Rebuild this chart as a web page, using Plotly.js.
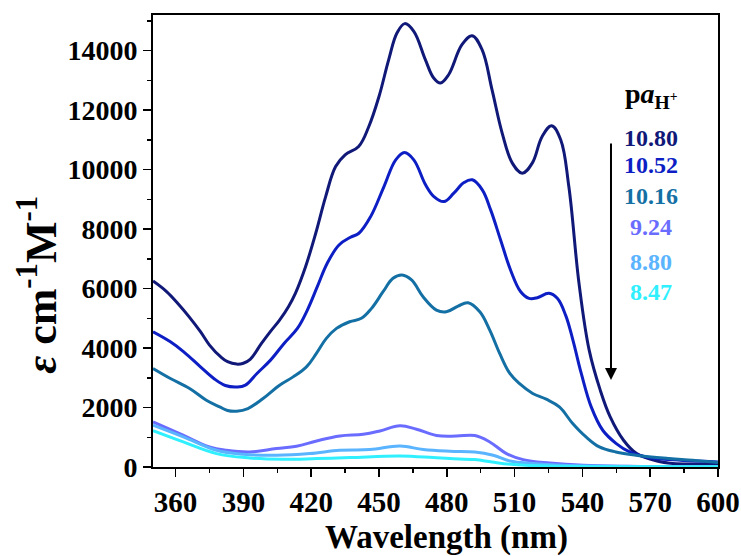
<!DOCTYPE html>
<html>
<head>
<meta charset="utf-8">
<script src="https://cdn.plot.ly/plotly-3.0.1.min.js"></script>
<style>html,body{margin:0;padding:0;background:#fff;}#chart{width:741px;height:556px;}</style>
</head>
<body>
<div id="chart"></div>
<script>
// pH labels (pa_H+)
const seriesLabels = ["10.80", "10.52", "10.16", "9.24", "8.80", "8.47"];
const seriesColors = ["#101878", "#0c1ec4", "#1470a4", "#6a6cff", "#5ab4ff", "#30f0ff"];

// Wavelengths (nm) and molar absorptivity values
const wl_1080 = [350, 356, 361, 366, 371, 375, 380, 383, 387, 390, 393, 398, 402, 406, 410, 413, 417.5, 422, 426.4, 430.8, 435, 441, 445.5, 450, 454.3, 458, 461.4, 465.4, 470.5, 474.2, 477.2, 480.8, 486.7, 491.2, 495.6, 500, 504.5, 509, 513.4, 517.8, 522.2, 526.4, 530.4, 534, 538.5, 543, 547.9, 552.3, 558.2, 564, 573, 580, 590, 600];
const eps_1080 = [6255, 5900, 5500, 5050, 4550, 4100, 3700, 3540, 3460, 3490, 3620, 4155, 4560, 4940, 5400, 5840, 6735, 7860, 9094, 10104, 10500, 10780, 11450, 12460, 13700, 14600, 14910, 14650, 13700, 13080, 12910, 13190, 14200, 14505, 14034, 12690, 11230, 10220, 9880, 10220, 11115, 11475, 11004, 9430, 6177, 3930, 2585, 1684, 900, 451, 202, 120, 100, 90];

const wl_1052 = [350, 357.7, 363.6, 371, 376.9, 382, 387.2, 390.9, 396, 402, 408, 413.9, 418.3, 422.7, 427.1, 432.3, 437.4, 441.1, 446.3, 452.2, 457.4, 461.3, 465.4, 470.6, 474.3, 478.7, 483.1, 487.6, 491.3, 495.7, 499.4, 503.8, 508.2, 512.7, 516.4, 520, 525.2, 528.9, 532.6, 535.8, 539.5, 543.9, 549, 555, 560.9, 568.2, 578.6, 600];
const eps_1052 = [4547, 4210, 3873, 3368, 2977, 2740, 2690, 2752, 3146, 3594, 4156, 4661, 5278, 6063, 6850, 7467, 7726, 7860, 8420, 9430, 10330, 10575, 10330, 9490, 9094, 8926, 9208, 9566, 9657, 9320, 8646, 7635, 6625, 5894, 5672, 5692, 5840, 5672, 5100, 4267, 3146, 2021, 1236, 788, 505, 337, 249, 168];

const wl_1016 = [350, 357.7, 366.2, 373.6, 379.5, 383, 387, 392, 398.7, 406, 412, 417.9, 422.3, 426.7, 431.2, 437, 442.2, 446.7, 451.8, 456.2, 460.2, 464.4, 469.5, 475.4, 479.8, 485, 489.4, 494.6, 499, 503.4, 507.9, 512.2, 518, 524, 529.8, 535.7, 541.6, 547.5, 554.8, 563.7, 578.4, 588.8, 600];
const eps_1016 = [3314, 2977, 2640, 2246, 2020, 1900, 1876, 1966, 2304, 2752, 3031, 3368, 3820, 4325, 4661, 4884, 5000, 5335, 5894, 6345, 6457, 6290, 5725, 5278, 5220, 5413, 5524, 5220, 4604, 3820, 3146, 2800, 2472, 2280, 2020, 1462, 1010, 674, 505, 394, 283, 226, 148];

const wl_924 = [350, 363.3, 375, 382.5, 392.8, 404.6, 413.5, 422.4, 432.7, 443, 450.4, 459.3, 466.6, 475.4, 484.3, 492.4, 499, 506.4, 513.8, 525.6, 540.4, 560, 600];
const eps_924 = [1516, 1068, 674, 562, 505, 620, 697, 876, 1044, 1101, 1213, 1390, 1270, 1062, 1040, 1057, 842, 451, 249, 135, 57, 25, 15];

const wl_880 = [350, 363.4, 378.1, 389.9, 404.6, 419.4, 432.7, 446, 459.3, 469.6, 481.4, 492.4, 500.5, 507.9, 518, 540, 600];
const eps_880 = [1404, 1011, 562, 428, 394, 450, 562, 585, 707, 585, 528, 505, 394, 202, 120, 40, 15];

const wl_847 = [350, 363.4, 378.1, 392.8, 407.5, 422.4, 437.2, 459.3, 474, 481.4, 492.4, 500, 509.8, 525, 600];
const eps_847 = [1220, 842, 450, 303, 259, 283, 316, 371, 316, 283, 249, 168, 81, 30, 10];

const xTickVals = [360, 390, 420, 450, 480, 510, 540, 570, 600];
const yTickVals = [0, 2000, 4000, 6000, 8000, 10000, 12000, 14000];
const yTickText = ["0", "2000", "4000", "6000", "8000", "10000", "12000", "14000"];
const xTitle = "Wavelength (nm)";
const yTitle = "<i>ε</i> cm<sup>-1</sup>M<sup>-1</sup>";
const legendTitle = "p<i>a</i><sub>H<sup>+</sup></sub>";

const allX = [wl_1080, wl_1052, wl_1016, wl_924, wl_880, wl_847];
const allY = [eps_1080, eps_1052, eps_1016, eps_924, eps_880, eps_847];

const FONT = "Times New Roman, Liberation Serif, DejaVu Serif, serif";

const traces = allX.map((xs, i) => ({
  x: xs, y: allY[i], type: "scatter", mode: "lines", name: seriesLabels[i],
  line: {color: seriesColors[i], width: 3, shape: "spline", smoothing: 1.1},
  hoverinfo: "skip"
}));

const labelY = [0.728, 0.668, 0.600, 0.531, 0.454, 0.387];
const annotations = seriesLabels.map((t, i) => ({
  xref: "paper", yref: "paper", x: 0.881, y: labelY[i], xanchor: "center", yanchor: "middle",
  text: "<b>" + t + "</b>", showarrow: false, font: {family: FONT, size: 24, color: seriesColors[i]}
}));
annotations.push({
  xref: "paper", yref: "paper", x: 0.832, y: 0.823, xanchor: "left", yanchor: "middle",
  text: "<b>" + legendTitle + "</b>", showarrow: false,
  font: {family: FONT, size: 28, color: "#000"}
});
annotations.push({
  xref: "paper", yref: "paper", x: 0.8106, y: 0.1925, text: "", showarrow: true,
  ax: 0, ay: -238, arrowhead: 2, arrowsize: 1.2, arrowwidth: 2, arrowcolor: "#000"
});
// axis titles
annotations.push({
  xref: "paper", yref: "paper", x: 0.52, y: -0.155, xanchor: "center", yanchor: "middle",
  text: "<b>" + xTitle + "</b>", showarrow: false, font: {family: FONT, size: 33, color: "#000"}
});
annotations.push({
  xref: "paper", yref: "paper", x: -0.2035, y: 0.403, xanchor: "center", yanchor: "middle",
  textangle: -90, text: "<b>" + yTitle + "</b>", showarrow: false,
  font: {family: FONT, size: 44, color: "#000"}
});

const layout = {
  width: 741, height: 556,
  margin: {l: 153, r: 23, t: 15, b: 89},
  paper_bgcolor: "#fff", plot_bgcolor: "#fff",
  showlegend: false,
  font: {family: FONT},
  xaxis: {
    range: [350, 600], tickvals: xTickVals, ticks: "outside", ticklen: 8, tickwidth: 1.5,
    tickcolor: "#000", showline: true, linecolor: "#000", linewidth: 2, mirror: true,
    showgrid: false, zeroline: false,
    minor: {dtick: 15, tick0: 345, ticks: "outside", ticklen: 4, tickwidth: 1.5, tickcolor: "#000", showgrid: false},
    tickfont: {family: FONT, size: 29, color: "#000", weight: "bold"}
  },
  yaxis: {
    range: [0, 15200], tickvals: yTickVals, ticktext: yTickText, ticks: "outside", ticklen: 8, tickwidth: 1.5,
    tickcolor: "#000", showline: true, linecolor: "#000", linewidth: 2, mirror: true,
    showgrid: false, zeroline: false,
    minor: {dtick: 1000, tick0: 0, ticks: "outside", ticklen: 4, tickwidth: 1.5, tickcolor: "#000", showgrid: false},
    tickfont: {family: FONT, size: 28, color: "#000", weight: "bold"}
  },
  annotations: annotations
};

Plotly.newPlot("chart", traces, layout, {displayModeBar: false, staticPlot: true});
</script>
</body>
</html>
